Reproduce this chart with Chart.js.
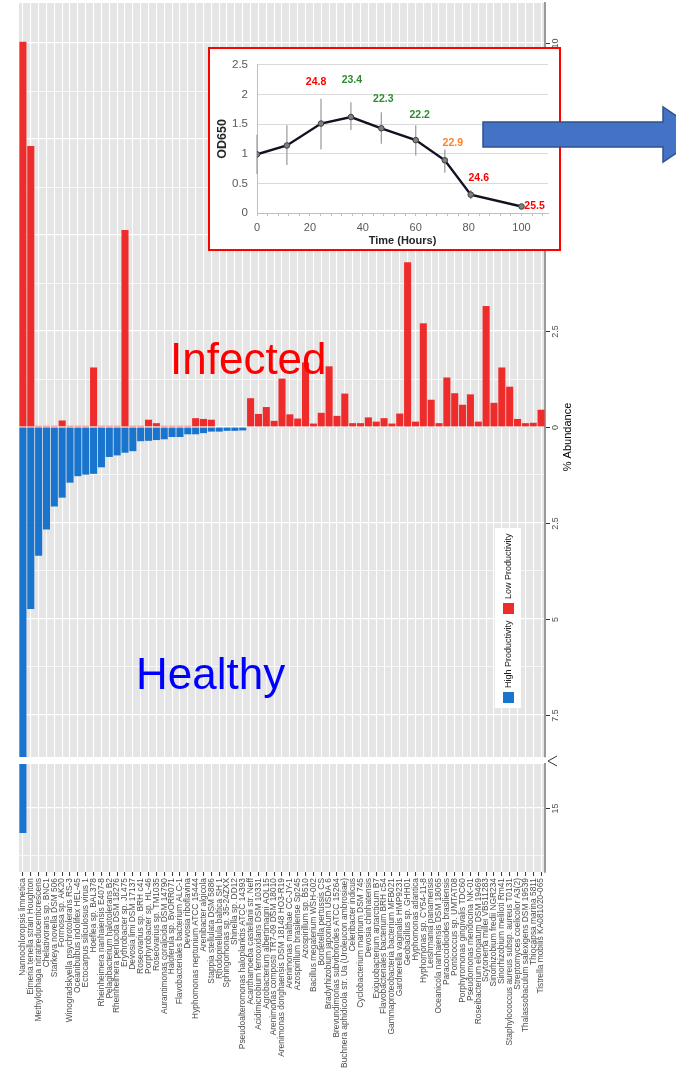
<!DOCTYPE html>
<html>
<head>
<meta charset="utf-8">
<script src="https://cdn.jsdelivr.net/npm/chart.js@4.4.1/dist/chart.umd.min.js"></script>
<style>
html,body{margin:0;padding:0;background:#fff;width:676px;height:1081px;overflow:hidden;}
#wrap{position:relative;width:676px;height:1081px;overflow:hidden;}
#c1{position:absolute;left:0;top:0;}
#c2{position:absolute;left:0;top:760px;}
#inset{position:absolute;left:208px;top:47px;width:353px;height:204px;box-sizing:border-box;border:2px solid #FF0000;background:#fff;}
#c3{position:absolute;left:0;top:0;}
#ov{position:absolute;left:0;top:0;pointer-events:none;}
</style>
</head>
<body>
<div id="wrap">
  <canvas id="c1" width="676" height="760"></canvas>
  <canvas id="c2" width="676" height="321"></canvas>
  <div id="inset"><canvas id="c3" width="349" height="200"></canvas></div>
  <svg id="ov" width="676" height="1081" xmlns="http://www.w3.org/2000/svg">
    <polygon points="483,122 663,122 663,107 704,134.5 663,162 663,147 483,147" fill="#4472C4" stroke="#2F528F" stroke-width="1.5"/>
    <polyline points="557,756 548,761 557,766" fill="none" stroke="#333" stroke-width="1"/>
  </svg>
</div>
<script>
// ---------------- DATA ----------------
const categories = [
  "Nannochloropsis limnetica",
  "Eimeria tenella strain Houghton",
  "Methylophaga nitratireducenticrescens",
  "Chelativorans sp. BNC1",
  "Starkeya novella DSM 506",
  "Formosa sp. AK20",
  "Winogradskyella psychrotolerans RS-3",
  "Oceanibulbus indolifex HEL-45",
  "Ectocarpus siliculosus virus 1",
  "Hoeflea sp. BAL378",
  "Rheinheimera nanhaiensis E407-8",
  "Pelagibacterium halotolerans B2",
  "Rheinheimera perlucida DSM 18276",
  "Erythrobacter sp. JL475",
  "Devosia limi DSM 17137",
  "Roseovarius sp. BRH c41",
  "Porphyrobacter sp. HL-46",
  "Roseovarius sp. TM1035",
  "Aurantimonas coralicida DSM 14790",
  "Haloferula sp. BvORR071",
  "Flavobacteriales bacterium ALC-1",
  "Devosia riboflavina",
  "Hyphomonas neptunium ATCC 15444",
  "Arenibacter algicola",
  "Stappia stellulata DSM 5886",
  "Rhodopirellula baltica SH 1",
  "Sphingomonas sp. 35-24ZXX",
  "Shinella sp. DD12",
  "Pseudoalteromonas haloplanktis ATCC 14393",
  "Acanthamoeba castellanii str. Neff",
  "Acidimicrobium ferrooxidans DSM 10331",
  "Agrobacterium albertimagni AOL15",
  "Arenimonas composti TR7-09 DSM 18010",
  "Arenimonas donghaensis DSM 18148 HO3-R19",
  "Arenimonas malthae CC-JY-1",
  "Azospirillum brasilense Sp245",
  "Azospirillum sp. B510",
  "Bacillus megaterium WSH-002",
  "Bordetella pertussis CS",
  "Bradyrhizobium japonicum USDA 6",
  "Brevundimonas subvibrioides ATCC 15264",
  "Buchnera aphidicola str. Ua (Uroleucon ambrosiae)",
  "Celeribacter indicus",
  "Cyclobacterium marinum DSM 745",
  "Devosia chinhatensis",
  "Exiguobacterium antarcticum B7",
  "Flavobacteriales bacterium BRH c54",
  "Gammaproteobacteria bacterium MFB021",
  "Gardnerella vaginalis HMP9231",
  "Geobacillus sp. GHH01",
  "Hyphomonas atlantica",
  "Hyphomonas sp. CY54-11-8",
  "Leishmania panamensis",
  "Oceanicola nanhaiensis DSM 18065",
  "Paracoccidioides brasiliensis",
  "Ponticoccus sp. UMTAT08",
  "Porphyromonas gingivalis TDC60",
  "Pseudomonas mendocina NK-01",
  "Roseibacterium elongatum DSM 19469",
  "Scytonema millei VB511283",
  "Sinorhizobium fredii NGR234",
  "Sinorhizobium meliloti Rm41",
  "Staphylococcus aureus subsp. aureus T0131",
  "Streptomyces coelicolor A3(2)",
  "Thalassobaculum salexigens DSM 19539",
  "Thiocapsa marina 5811",
  "Tistrella mobilis KA081020-065"
];

// Low Productivity (Infected) % abundance
const infectedValues = [
  10.03, 7.32, 0.03, 0.03, 0.03, 0.17, 0.03, 0.03, 0.03, 1.55,
  0.03, 0.03, 0.03, 5.13, 0.03, 0.03, 0.19, 0.10, 0.03, 0.03,
  0.03, 0.03, 0.23, 0.21, 0.19, 0, 0, 0, 0, 0.75,
  0.34, 0.52, 0.16, 1.26, 0.33, 0.22, 1.68, 0.09, 0.37, 1.58,
  0.29, 0.87, 0.10, 0.10, 0.25, 0.14, 0.23, 0.09, 0.35, 4.29,
  0.14, 2.70, 0.71, 0.10, 1.29, 0.88, 0.58, 0.85, 0.14, 3.15,
  0.63, 1.55, 1.05, 0.21, 0.10, 0.11, 0.45
];

// High Productivity (Healthy) % abundance, drawn downward
const healthyValues = [
  -15.65, -4.74, -3.35, -2.67, -2.07, -1.84, -1.45, -1.28, -1.24, -1.22,
  -1.05, -0.78, -0.74, -0.67, -0.63, -0.37, -0.36, -0.34, -0.32, -0.26,
  -0.26, -0.19, -0.19, -0.16, -0.12, -0.12, -0.10, -0.10, -0.09, 0,
  0, 0, 0, 0, 0, 0, 0, 0, 0, 0,
  0, 0, 0, 0, 0, 0, 0, 0, 0, 0,
  0, 0, 0, 0, 0, 0, 0, 0, 0, 0,
  0, 0, 0, 0, 0, 0, 0
];

const seriesNames = ["Low Productivity", "High Productivity"];
const upperTickLabels = [10, 7.5, 5, 2.5, 0, -2.5, -5, -7.5];
const lowerTickLabels = [-15];

// Inset growth curve
const timeHours = [0, 11.3, 24.2, 35.5, 47, 60, 71, 80.8, 100];
const od650 = [0.99, 1.14, 1.51, 1.62, 1.43, 1.23, 0.89, 0.31, 0.11];
const odErrLow = [0.66, 0.81, 1.07, 1.40, 1.17, 0.97, 0.68, 0.23, 0.07];
const odErrHigh = [1.32, 1.48, 1.93, 1.87, 1.70, 1.48, 1.07, 0.39, 0.16];
const tempLabels = [null, null, "24.8", "23.4", "22.3", "22.2", "22.9", "24.6", "25.5"];
const timeTickLabels = [0, 20, 40, 60, 80, 100];

// ---------------- STYLE ----------------
const RED = "#EE2C2C", BLUE = "#1874CD";
const tempLabelColors = [null, null, "#FF0000", "#2E8B2E", "#2E8B2E", "#2E8B2E", "#FF7F27", "#FF0000", "#FF0000"];
const tempLabelOffsets = [null, null, [-5, -41], [1, -37], [2, -29], [4, -25], [8, -17], [8, -17], [13, 0]];
const FONT = "'Liberation Sans', Arial, Helvetica, sans-serif";
Chart.defaults.font.family = FONT;

function isMajor(v) { return Math.abs(v / 2.5 - Math.round(v / 2.5)) < 1e-6; }

function panelPlugin(tickValues) {
  return {
    id: 'panel',
    beforeDraw(chart) {
      const a = chart.chartArea, ctx = chart.ctx;
      ctx.save();
      ctx.fillStyle = '#E5E5E5';
      ctx.fillRect(a.left, a.top, a.right - a.left, a.bottom - a.top);
      ctx.restore();
    },
    afterDraw(chart) {
      const y = chart.scales.y, a = chart.chartArea, ctx = chart.ctx;
      ctx.save();
      tickValues.forEach(v => {
        if (v < y.min || v > y.max) return;
        const py = Math.round(y.getPixelForValue(v)) + 0.5;
        ctx.strokeStyle = '#333'; ctx.lineWidth = 1;
        ctx.beginPath(); ctx.moveTo(a.right + 1, py); ctx.lineTo(a.right + 5, py); ctx.stroke();
        ctx.save();
        ctx.translate(a.right + 11, py);
        ctx.rotate(-Math.PI / 2);
        ctx.fillStyle = '#4D4D4D';
        ctx.font = "9px " + FONT;
        ctx.textAlign = 'center'; ctx.textBaseline = 'middle';
        ctx.fillText(String(Math.abs(v)), 0, 0);
        ctx.restore();
      });
      ctx.restore();
    }
  };
}

const decorPlugin = {
  id: 'decor',
  afterDraw(chart) {
    const ctx = chart.ctx;
    ctx.save();
    // axis title
    ctx.save();
    ctx.translate(568, 437);
    ctx.rotate(-Math.PI / 2);
    ctx.fillStyle = '#000';
    ctx.font = "11px " + FONT;
    ctx.textAlign = 'center'; ctx.textBaseline = 'middle';
    ctx.fillText('% Abundance', 0, 0);
    ctx.restore();
    // legend
    ctx.fillStyle = '#fff';
    ctx.fillRect(495, 528, 26, 180);
    const ds = chart.data.datasets;
    const items = [{d: ds[1], y0: 703}, {d: ds[0], y0: 614}];
    items.forEach(it => {
      ctx.fillStyle = it.d.backgroundColor;
      ctx.fillRect(503, it.y0 - 11, 11, 11);
      ctx.save();
      ctx.translate(509, it.y0 - 15);
      ctx.rotate(-Math.PI / 2);
      ctx.fillStyle = '#1A1A1A';
      ctx.font = "9px " + FONT;
      ctx.textAlign = 'left'; ctx.textBaseline = 'middle';
      ctx.fillText(it.d.label, 0, 0);
      ctx.restore();
    });
    // big annotations
    ctx.font = "44px " + FONT;
    ctx.textAlign = 'left'; ctx.textBaseline = 'alphabetic';
    ctx.fillStyle = '#FF0000';
    ctx.fillText('Infected', 170, 374);
    ctx.fillStyle = '#0000FF';
    ctx.fillText('Healthy', 136, 689);
    ctx.restore();
  }
};

function xScale(showLabels) {
  return {
    type: 'category',
    offset: true,
    grid: {
      color: '#FFFFFF', lineWidth: 1.1, offset: false,
      drawTicks: showLabels, tickLength: 4, tickColor: '#333333', tickWidth: 1
    },
    border: { display: false },
    ticks: {
      display: showLabels, autoSkip: false, minRotation: 90, maxRotation: 90,
      font: { size: 8.4 }, color: '#4D4D4D', padding: 2
    },
    afterFit: showLabels ? (s) => { s.height = 209; } : undefined
  };
}

function yScale(min, max) {
  return {
    type: 'linear', position: 'right', min: min, max: max,
    ticks: { display: false, stepSize: 1.25, includeBounds: false },
    grid: {
      color: '#FFFFFF', drawTicks: false,
      lineWidth: (c) => (c.tick && isMajor(c.tick.value)) ? 1.2 : 0.7
    },
    border: { display: true, color: '#9A9A9A', width: 2 },
    afterFit: (s) => { s.width = 0; }
  };
}

const barCommon = { barPercentage: 0.9, categoryPercentage: 1.0, borderWidth: 0, grouped: false };

// Upper panel
new Chart(document.getElementById('c1'), {
  type: 'bar',
  data: {
    labels: categories,
    datasets: [
      Object.assign({ label: seriesNames[0], data: infectedValues, backgroundColor: RED }, barCommon),
      Object.assign({ label: seriesNames[1], data: healthyValues, backgroundColor: BLUE }, barCommon)
    ]
  },
  options: {
    responsive: false, animation: false, events: [],
    layout: { padding: { left: 19, right: 131, top: 3, bottom: 3 } },
    plugins: { legend: { display: false }, tooltip: { enabled: false } },
    scales: { x: xScale(false), y: yScale(-8.594, 11.042) }
  },
  plugins: [panelPlugin(upperTickLabels), decorPlugin]
});

// Lower (broken-axis) panel
new Chart(document.getElementById('c2'), {
  type: 'bar',
  data: {
    labels: categories,
    datasets: [
      Object.assign({ label: seriesNames[1], data: healthyValues, backgroundColor: BLUE }, barCommon)
    ]
  },
  options: {
    responsive: false, animation: false, events: [],
    layout: { padding: { left: 19, right: 131, top: 4, bottom: 0 } },
    plugins: { legend: { display: false }, tooltip: { enabled: false } },
    scales: { x: xScale(true), y: yScale(-16.667, -13.854) }
  },
  plugins: [panelPlugin(lowerTickLabels)]
});

// Inset growth curve
const insetPlugin = {
  id: 'inset',
  beforeDatasetsDraw(chart) {
    const x = chart.scales.x, y = chart.scales.y, ctx = chart.ctx;
    ctx.save();
    ctx.strokeStyle = '#A0A0A0'; ctx.lineWidth = 1.3;
    timeHours.forEach((t, i) => {
      const px = x.getPixelForValue(t);
      ctx.beginPath();
      ctx.moveTo(px, y.getPixelForValue(odErrLow[i]));
      ctx.lineTo(px, y.getPixelForValue(odErrHigh[i]));
      ctx.stroke();
    });
    ctx.restore();
  },
  afterDatasetsDraw(chart) {
    const x = chart.scales.x, y = chart.scales.y, ctx = chart.ctx;
    ctx.save();
    ctx.font = "bold 10.5px " + FONT;
    ctx.textAlign = 'center'; ctx.textBaseline = 'middle';
    tempLabels.forEach((lab, i) => {
      if (!lab) return;
      const off = tempLabelOffsets[i];
      ctx.fillStyle = tempLabelColors[i];
      ctx.fillText(lab, x.getPixelForValue(timeHours[i]) + off[0], y.getPixelForValue(od650[i]) + off[1]);
    });
    ctx.restore();
  }
};

new Chart(document.getElementById('c3'), {
  type: 'line',
  data: {
    datasets: [{
      data: timeHours.map((t, i) => ({ x: t, y: od650[i] })),
      borderColor: '#111122', borderWidth: 2.4, tension: 0,
      pointRadius: 2.8, pointBackgroundColor: '#808080', pointBorderColor: '#404040', pointBorderWidth: 1
    }]
  },
  options: {
    responsive: false, animation: false, events: [],
    layout: { padding: { left: 0, right: 11, top: 10, bottom: 0 } },
    plugins: { legend: { display: false }, tooltip: { enabled: false } },
    scales: {
      x: {
        type: 'linear', min: 0, max: 110,
        ticks: {
          stepSize: 4, includeBounds: false, autoSkip: false, maxRotation: 0,
          font: { size: 11 }, color: '#595959', padding: 5,
          callback: (v) => timeTickLabels.includes(v) ? String(v) : ''
        },
        grid: { drawOnChartArea: false, drawTicks: true, tickLength: 3, tickColor: '#BFBFBF' },
        border: { color: '#BFBFBF', width: 1 },
        title: { display: true, text: 'Time (Hours)', font: { size: 11, weight: 'bold' }, color: '#262626', padding: { top: 0, bottom: 1 } },
        afterFit: (s) => { s.height = 36; }
      },
      y: {
        type: 'linear', min: 0, max: 2.5,
        ticks: {
          stepSize: 0.5, font: { size: 11.5 }, color: '#595959', padding: 9,
          callback: (v) => String(Math.round(v * 10) / 10)
        },
        grid: { color: '#D9D9D9', drawTicks: false },
        border: { color: '#BFBFBF', width: 1 },
        title: { display: true, text: 'OD650', font: { size: 12.5, weight: 'bold' }, color: '#262626', padding: { top: 5, bottom: 0 } },
        afterFit: (s) => { s.width = 47; }
      }
    }
  },
  plugins: [insetPlugin]
});
</script>
</body>
</html>
